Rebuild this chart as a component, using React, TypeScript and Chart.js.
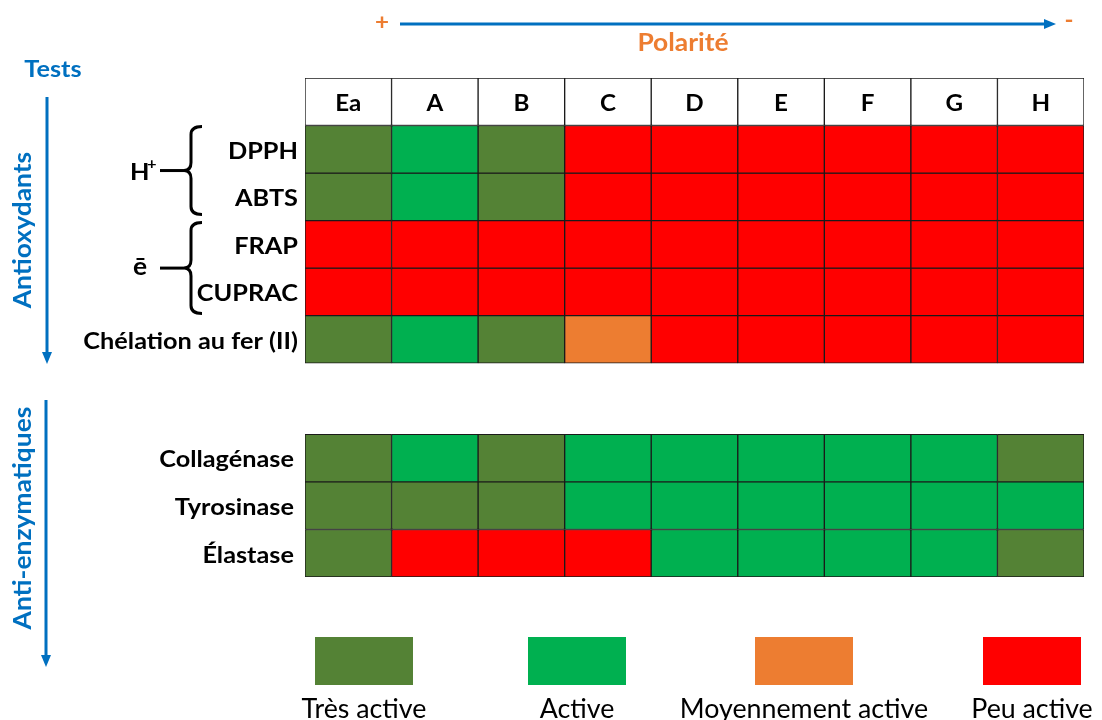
import React, { useEffect, useRef } from "react";
import { Chart, registerables } from "chart.js";

Chart.register(...registerables);

// ---------- DATA ----------
const COLUMNS = ["Ea", "A", "B", "C", "D", "E", "F", "G", "H"];
const ANTIOX_TESTS = ["DPPH", "ABTS", "FRAP", "CUPRAC", "Chélation au fer (II)"];
const ENZYME_TESTS = ["Collagénase", "Tyrosinase", "Élastase"];
const LEVELS = ["Très active", "Active", "Moyennement active", "Peu active"];
const LEVEL_COLORS = ["#548235", "#00B050", "#ED7D31", "#FF0000"];
// 0 = Très active, 1 = Active, 2 = Moyennement active, 3 = Peu active
const DPPH = [0, 1, 0, 3, 3, 3, 3, 3, 3];
const ABTS = [0, 1, 0, 3, 3, 3, 3, 3, 3];
const FRAP = [3, 3, 3, 3, 3, 3, 3, 3, 3];
const CUPRAC = [3, 3, 3, 3, 3, 3, 3, 3, 3];
const CHELATION = [0, 1, 0, 2, 3, 3, 3, 3, 3];
const COLLAGENASE = [0, 1, 0, 1, 1, 1, 1, 1, 0];
const TYROSINASE = [0, 0, 0, 1, 1, 1, 1, 1, 1];
const ELASTASE = [0, 3, 3, 3, 1, 1, 1, 1, 0];
const ANTIOX_VALUES = [DPPH, ABTS, FRAP, CUPRAC, CHELATION];
const ENZYME_VALUES = [COLLAGENASE, TYROSINASE, ELASTASE];

const FONT = "Lato, 'Open Sans', sans-serif";
const BLUE = "#0070C0";
const ORANGE = "#ED7D31";
const SX = 1.1;

export default function App() {
  const ref = useRef<HTMLCanvasElement | null>(null);

  useEffect(() => {
    document.body.style.margin = "0";
    const canvas = ref.current!;
    const GAP = 1.5;
    const rowStart = (group: number, i: number) => (group === 0 ? 1 + i : 1 + ANTIOX_TESTS.length + GAP + i);
    const Y_MAX = 1 + ANTIOX_TESTS.length + GAP + ENZYME_TESTS.length;

    const datasets: any[] = [];
    datasets.push({
      label: "header",
      data: COLUMNS.map(() => [0, 1]),
      backgroundColor: "#ffffff",
    });
    ANTIOX_VALUES.forEach((vals, i) => {
      const s = rowStart(0, i);
      datasets.push({
        label: ANTIOX_TESTS[i],
        data: vals.map(() => [s, s + 1]),
        backgroundColor: vals.map((v) => LEVEL_COLORS[v]),
      });
    });
    ENZYME_VALUES.forEach((vals, i) => {
      const s = rowStart(1, i);
      datasets.push({
        label: ENZYME_TESTS[i],
        data: vals.map(() => [s, s + 1]),
        backgroundColor: vals.map((v) => LEVEL_COLORS[v]),
      });
    });
    datasets.forEach((d) => {
      d.borderColor = "#1a1a1a";
      d.borderWidth = 1;
      d.borderSkipped = false;
      d.barPercentage = 1;
      d.categoryPercentage = 1;
      d.grouped = false;
    });

    // text with cap-centered vertical placement and horizontal stretch
    const txt = (
      ctx: CanvasRenderingContext2D,
      s: string,
      x: number,
      yCapMid: number,
      size: number,
      bold: boolean,
      align: CanvasTextAlign,
      color: string,
      sx = SX
    ) => {
      ctx.save();
      ctx.font = `${bold ? "bold " : ""}${size}px ${FONT}`;
      ctx.fillStyle = color;
      ctx.textAlign = align;
      ctx.textBaseline = "alphabetic";
      ctx.translate(x, yCapMid + size * 0.36);
      ctx.scale(sx, 1);
      ctx.fillText(s, 0, 0);
      ctx.restore();
    };

    const arrow = (ctx: CanvasRenderingContext2D, x1: number, y1: number, x2: number, y2: number) => {
      const ang = Math.atan2(y2 - y1, x2 - x1);
      const hl = 12, hw = 5;
      ctx.save();
      ctx.strokeStyle = BLUE;
      ctx.fillStyle = BLUE;
      ctx.lineWidth = 3;
      ctx.beginPath();
      ctx.moveTo(x1, y1);
      ctx.lineTo(x2 - Math.cos(ang) * hl * 0.8, y2 - Math.sin(ang) * hl * 0.8);
      ctx.stroke();
      ctx.beginPath();
      ctx.moveTo(x2, y2);
      ctx.lineTo(x2 - Math.cos(ang) * hl - Math.sin(ang) * hw, y2 - Math.sin(ang) * hl + Math.cos(ang) * hw);
      ctx.lineTo(x2 - Math.cos(ang) * hl + Math.sin(ang) * hw, y2 - Math.sin(ang) * hl - Math.cos(ang) * hw);
      ctx.closePath();
      ctx.fill();
      ctx.restore();
    };

    const brace = (ctx: CanvasRenderingContext2D, yTop: number, yBot: number) => {
      const xR = 202, xB = 191, xT = 184, r = 8;
      const yMid = (yTop + yBot) / 2;
      ctx.save();
      ctx.strokeStyle = "#000";
      ctx.lineWidth = 3;
      ctx.beginPath();
      ctx.moveTo(xR, yTop);
      ctx.quadraticCurveTo(xB, yTop, xB, yTop + r);
      ctx.lineTo(xB, yMid - r);
      ctx.quadraticCurveTo(xB, yMid, xT, yMid);
      ctx.quadraticCurveTo(xB, yMid, xB, yMid + r);
      ctx.lineTo(xB, yBot - r);
      ctx.quadraticCurveTo(xB, yBot, xR, yBot);
      ctx.stroke();
      ctx.beginPath();
      ctx.moveTo(160, yMid);
      ctx.lineTo(xT, yMid);
      ctx.stroke();
      ctx.restore();
      return yMid;
    };

    const annotations = {
      id: "annotations",
      afterDraw(chart: any) {
        const ctx: CanvasRenderingContext2D = chart.ctx;
        const xs = chart.scales.x;
        const ys = chart.scales.y;
        // header labels
        COLUMNS.forEach((c, i) => {
          txt(ctx, c, xs.getPixelForValue(i), ys.getPixelForValue(0.5) + 1, 22, true, "center", "#000");
        });
        // row labels
        ANTIOX_TESTS.forEach((t, i) => {
          txt(ctx, t, 298, ys.getPixelForValue(rowStart(0, i) + 0.5) + 1, 23, true, "right", "#000");
        });
        ENZYME_TESTS.forEach((t, i) => {
          txt(ctx, t, 294, ys.getPixelForValue(rowStart(1, i) + 0.5) + 1, 23, true, "right", "#000");
        });
        // braces
        const m1 = brace(ctx, ys.getPixelForValue(1) + 1, ys.getPixelForValue(3) - 6);
        const m2 = brace(ctx, ys.getPixelForValue(3) + 2, ys.getPixelForValue(5) - 2);
        txt(ctx, "H", 130, m1 + 1, 23, true, "left", "#000");
        txt(ctx, "+", 147, m1 - 7, 15, true, "left", "#000");
        txt(ctx, "ē", 133, m2 - 2, 24, true, "left", "#000");

        // Top polarity arrow
        arrow(ctx, 400, 24, 1056, 24);
        txt(ctx, "+", 382, 22, 22, true, "center", ORANGE);
        txt(ctx, "-", 1069, 20, 22, true, "center", ORANGE);
        txt(ctx, "Polarité", 683, 42, 24, true, "center", ORANGE);

        // Tests + vertical arrows
        txt(ctx, "Tests", 53, 69, 23, true, "center", BLUE);
        arrow(ctx, 47, 97, 47, 364);
        arrow(ctx, 46, 400, 46, 667);
        ctx.save();
        ctx.translate(22, 230);
        ctx.rotate(-Math.PI / 2);
        txt(ctx, "Antioxydants", 0, 0, 24, true, "center", BLUE);
        ctx.restore();
        ctx.save();
        ctx.translate(22, 518);
        ctx.rotate(-Math.PI / 2);
        txt(ctx, "Anti-enzymatiques", 0, 0, 24, true, "center", BLUE);
        ctx.restore();

        // Legend
        const centers = [364, 577, 804, 1032];
        LEVELS.forEach((lbl, i) => {
          ctx.fillStyle = LEVEL_COLORS[i];
          ctx.fillRect(centers[i] - 49, 637, 98, 48);
          txt(ctx, lbl, centers[i], 709, 26, false, "center", "#000", 1.03);
        });
      },
    };

    const chart = new Chart(canvas, {
      type: "bar",
      data: { labels: COLUMNS, datasets },
      options: {
        responsive: false,
        animation: false,
        layout: { padding: { left: 305, right: 1102 - 1084, top: 78, bottom: 720 - 577 } },
        plugins: { legend: { display: false }, tooltip: { enabled: false } },
        scales: {
          x: { display: false, offset: true },
          y: { display: false, min: 0, max: Y_MAX, reverse: true },
        },
      },
      plugins: [annotations],
    });
    (document as any).fonts?.load?.(`bold 22px Lato`).then(() => chart.update());
    return () => chart.destroy();
  }, []);

  return <canvas ref={ref} width={1102} height={720} style={{ display: "block" }} />;
}
